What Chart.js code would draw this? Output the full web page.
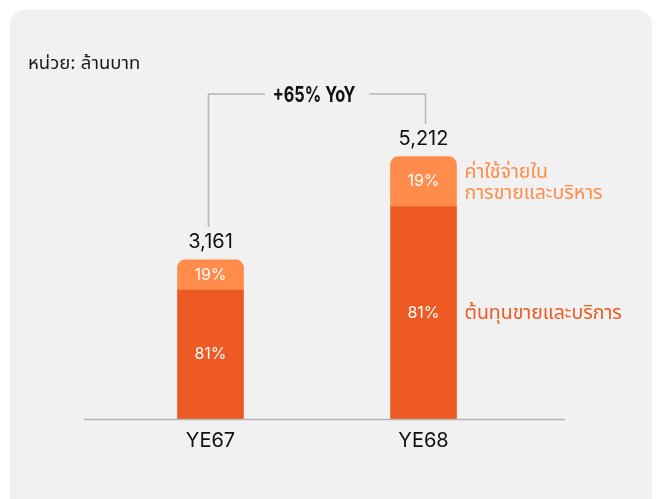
<!DOCTYPE html>
<html>
<head>
<meta charset="utf-8">
<script src="https://cdn.jsdelivr.net/npm/chart.js@4.4.1/dist/chart.umd.min.js"></script>
<style>
  html, body { margin: 0; padding: 0; background: #ffffff; }
  #card {
    position: absolute; left: 10px; top: 10px; width: 642px; height: 489px;
    background: #f0f1f0; border-radius: 14px 14px 0 0;
  }
  #wrap { position: absolute; left: 0; top: 0; width: 657px; height: 499px; }
</style>
</head>
<body>
<div id="card"></div>
<div id="wrap"><canvas id="grafico"></canvas></div>
<script>
// Dados (ล้านบาท)
const categorias = ["YE67", "YE68"];
const totais = [3161, 5212];
const custoVendas = [2560, 4222];      // ต้นทุนขายและบริการ (81%)
const despesasAdm = [601, 990];        // ค่าใช้จ่ายในการขายและบริหาร (19%)
const pctCusto = ["81%", "81%"];
const pctDespesas = ["19%", "19%"];
const legendaCusto = ["ต้นทุนขายและบริการ"];
const legendaDespesas = ["ค่าใช้จ่ายใน", "การขายและบริหาร"];
const unidade = "หน่วย: ล้านบาท";
const crescimento = "+65% YoY";

const corEscura = "#ee5a24";
const corClara = "#ff8c4a";
const fonteBase = "Inter, 'Noto Sans Thai', 'Noto Sans', sans-serif";

// Plugin para desenhar textos, linha base e colchete
const anotacoes = {
    id: "anotacoes",
    afterDatasetsDraw(chart) {
        const ctx = chart.ctx;
        const area = chart.chartArea;
        const meta0 = chart.getDatasetMeta(0);
        const meta1 = chart.getDatasetMeta(1);
        ctx.save();

        // linha base
        ctx.strokeStyle = "#b4b6b5";
        ctx.lineWidth = 1.5;
        ctx.beginPath();
        ctx.moveTo(area.left - 20, area.bottom + 0.5);
        ctx.lineTo(area.right + 35, area.bottom + 0.5);
        ctx.stroke();

        // unidade
        ctx.fillStyle = "#1a1a1a";
        ctx.font = "18.5px " + fonteBase;
        ctx.textAlign = "left";
        ctx.textBaseline = "middle";
        ctx.fillText(unidade, 28, 63);

        // rótulos das categorias, totais e percentuais
        categorias.forEach((cat, i) => {
            const b0 = meta0.data[i];
            const b1 = meta1.data[i];
            ctx.textAlign = "center";
            ctx.textBaseline = "middle";

            ctx.fillStyle = "#111111";
            ctx.font = "20px " + fonteBase;
            ctx.fillText(cat, b0.x, area.bottom + 22);
            ctx.fillText(totais[i].toLocaleString("en-US"), b1.x, b1.y - 18);

            ctx.fillStyle = "#ffffff";
            ctx.font = "16px " + fonteBase;
            ctx.fillText(pctDespesas[i], b1.x, (b1.y + b1.base) / 2);
            ctx.fillText(pctCusto[i], b0.x, (b0.y + b0.base) / 2);
        });

        // legenda à direita da última barra
        const ult = categorias.length - 1;
        const bd = meta1.data[ult];
        const bc = meta0.data[ult];
        const xLeg = bd.x + bd.width / 2 + 8;
        ctx.textAlign = "left";
        ctx.font = "19.5px " + fonteBase;
        ctx.fillStyle = corClara;
        legendaDespesas.forEach((t, k) => ctx.fillText(t, xLeg, bd.y + 15 + k * 21));
        ctx.fillStyle = corEscura;
        ctx.fillText(legendaCusto[0], xLeg, (bc.y + bc.base) / 2);

        // colchete de crescimento
        const xa = meta1.data[0].x - 2;
        const xb = meta1.data[1].x + 2;
        const yTopo = 94;
        const xm = (xa + xb) / 2;
        const escala = 0.74;
        ctx.font = "bold 22px " + fonteBase;
        const larg = ctx.measureText(crescimento).width * escala;
        ctx.strokeStyle = "#b4b6b5";
        ctx.lineWidth = 1.5;
        ctx.beginPath();
        ctx.moveTo(xa, meta1.data[0].y - 33);
        ctx.lineTo(xa, yTopo);
        ctx.lineTo(xm - larg / 2 - 11, yTopo);
        ctx.moveTo(xm + larg / 2 + 11, yTopo);
        ctx.lineTo(xb, yTopo);
        ctx.lineTo(xb, meta1.data[1].y - 33);
        ctx.stroke();
        ctx.fillStyle = "#111111";
        ctx.textAlign = "center";
        ctx.translate(xm - 3, yTopo + 1);
        ctx.scale(escala, 1);
        ctx.fillText(crescimento, 0, 0);

        ctx.restore();
    }
};

const ctx = document.getElementById("grafico").getContext("2d");
window.grafico = new Chart(ctx, {
    type: "bar",
    data: {
        labels: categorias,
        datasets: [
            {
                label: legendaCusto[0],
                data: custoVendas,
                backgroundColor: corEscura,
                barThickness: 66,
                borderRadius: 0
            },
            {
                label: legendaDespesas.join(""),
                data: despesasAdm,
                backgroundColor: corClara,
                barThickness: 66,
                borderRadius: { topLeft: 8, topRight: 8, bottomLeft: 0, bottomRight: 0 },
                borderSkipped: false
            }
        ]
    },
    options: {
        responsive: true,
        maintainAspectRatio: false,
        animation: false,
        layout: { padding: { top: 117, bottom: 80, left: 104, right: 127 } },
        plugins: {
            legend: { display: false },
            tooltip: { enabled: false }
        },
        scales: {
            x: { display: false, stacked: true },
            y: { display: false, stacked: true, min: 0, max: 6000 }
        }
    },
    plugins: [anotacoes]
});
</script>
</body>
</html>
